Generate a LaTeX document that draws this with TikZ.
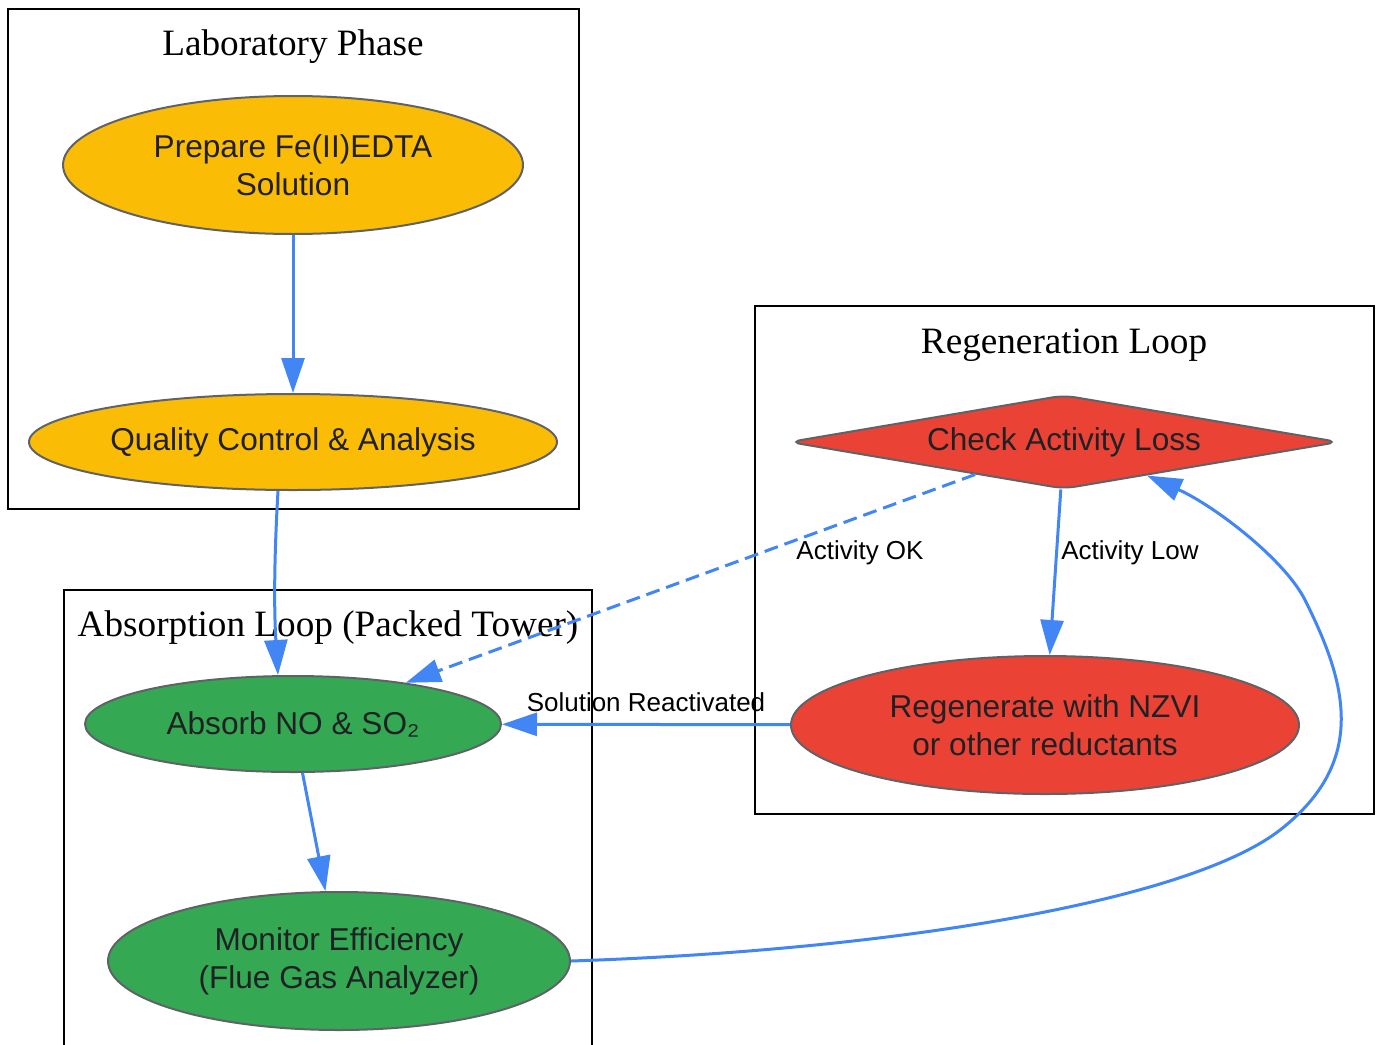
\documentclass[tikz,border=0pt]{standalone}
\usepackage{fontspec}
\setmainfont{Liberation Serif}
\setsansfont{Liberation Sans}
\usetikzlibrary{shapes.geometric,arrows.meta}

\definecolor{labyellow}{HTML}{FBBC05}
\definecolor{absgreen}{HTML}{34A853}
\definecolor{regred}{HTML}{EA4335}
\definecolor{flowblue}{HTML}{4285F4}
\definecolor{rimgray}{HTML}{5F6368}
\definecolor{inkgray}{HTML}{202124}

\begin{document}
\begin{tikzpicture}[x=0.5pt,y=-0.5pt]
        \tikzstyle{every node}=[font=\sffamily\fontsize{15.8}{19}\selectfont, text=inkgray, align=center]
        \tikzstyle{phase}=[draw=black, line width=1pt]
        \tikzstyle{phasetitle}=[font=\rmfamily\fontsize{18.6}{22}\selectfont, text=black, anchor=base]
        \tikzstyle{stepnode}=[ellipse, draw=rimgray, line width=1pt, inner sep=0pt]
        \tikzstyle{decision}=[diamond, aspect=5.86, draw=rimgray, line width=1pt, inner sep=0pt, rounded corners=6pt]
        \tikzstyle{flow}=[draw=flowblue, line width=1.5pt, -{Triangle[length=17.5pt,width=11.5pt]}]
        \tikzstyle{flowlabel}=[font=\sffamily\fontsize{13}{15}\selectfont, text=black]

        \useasboundingbox (0,0) rectangle (1380,1044);

        % clusters
        \draw[phase] (8,9) rectangle (579,509);
        \node[phasetitle] (labtitle) at (293,55) {Laboratory Phase};

        \draw[phase] (64,590) rectangle (592,1060);
        \node[phasetitle] (abstitle) at (328,636) {Absorption Loop (Packed Tower)};

        \draw[phase] (755,306) rectangle (1374,814);
        \node[phasetitle] (regtitle) at (1064,353) {Regeneration Loop};

        % steps
        \node[stepnode, fill=labyellow, minimum width=230pt, minimum height=69pt] (prep) at (293,165) {Prepare Fe(II)EDTA\\Solution};
        \node[stepnode, fill=labyellow, minimum width=264pt, minimum height=48pt] (qc) at (293,442) {Quality Control \& Analysis};

        \node[stepnode, fill=absgreen, minimum width=208pt, minimum height=48pt] (absorb) at (293,724) {Absorb NO \& SO₂};
        \node[stepnode, fill=absgreen, minimum width=231pt, minimum height=69pt] (monitor) at (339,961) {Monitor Efficiency\\(Flue Gas Analyzer)};

        \node[decision, fill=regred, minimum width=275pt, minimum height=47pt] (check) at (1064,442) {Check Activity Loss};
        \node[stepnode, fill=regred, minimum width=254pt, minimum height=69pt] (regen) at (1045,725) {Regenerate with NZVI\\or other reductants};

        % flows
        \draw[flow] (prep) -- (qc);
        \draw[flow] ([xshift=-7.5pt]qc.south) .. controls (274,560) and (274,610) .. ([xshift=-7.5pt]absorb.north);
        \draw[flow] (absorb) -- (monitor);
        \draw[flow] (monitor.east) .. controls (900,950) and (1190,900) .. (1280,830)
            .. controls (1370,760) and (1345,680) .. (1305,600)
            .. controls (1285,560) and (1215,506) .. (check.-22);
        \draw[flow, dash pattern=on 7pt off 3.5pt] (check) -- (absorb);
        \draw[flow] (check) -- (regen);
        \draw[flow] (regen) -- (absorb);

        \node[flowlabel] (oklabel) at (860,553) {Activity OK};
        \node[flowlabel] (lowlabel) at (1130,553) {Activity Low};
        \node[flowlabel] (reactlabel) at (646,702) {Solution Reactivated};
\end{tikzpicture}
\end{document}
